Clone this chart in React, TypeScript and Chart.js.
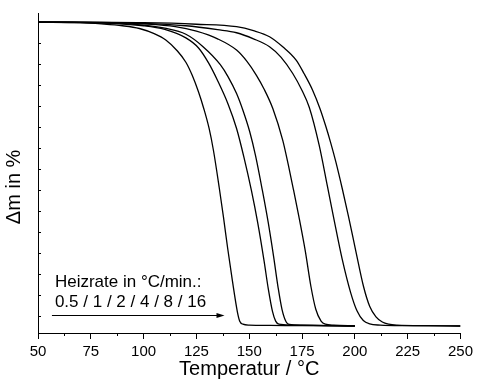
import React, { useEffect, useRef } from 'react';
import { Chart, registerables } from 'chart.js';

Chart.register(...registerables);

// Heating rates in °C/min (one curve each)
const heatingRates = ['0.5', '1', '2', '4', '8', '16'];

// Curve 0.5 °C/min
const temp05 = [50, 70, 80, 90, 98, 105, 110.5, 116, 120, 123, 126, 128.5, 131, 133, 135.8, 137.8, 139.8, 142, 144.4, 145.5, 147, 150, 160, 175, 200];
const mass05 = [100, 99.8, 99.4, 98.8, 97.9, 96.2, 94.1, 90.5, 86.8, 82.5, 77.0, 71.5, 65.0, 58.0, 45.5, 35.8, 25.5, 15.0, 4.6, 1.6, 0.6, 0.3, 0.2, 0.1, 0];

// Curve 1 °C/min
const temp1 = [50, 80, 100, 110, 120, 126, 130.8, 135, 140, 144, 147.5, 151, 154, 157, 159, 161, 162.5, 164, 170, 185, 200];
const mass1 = [100, 99.7, 98.8, 97.6, 94.8, 91.5, 86.5, 80.8, 73.0, 65.0, 55.5, 44.7, 34.0, 21.5, 12.3, 4.8, 1.6, 0.6, 0.3, 0.15, 0];

// Curve 2 °C/min
const temp2 = [50, 80, 100, 110, 120, 128, 136.3, 140, 144, 147, 150.2, 153, 156.2, 159, 161.5, 163.7, 165.5, 167.5, 169, 175, 200];
const mass2 = [100, 99.8, 99.0, 98.0, 96.0, 92.0, 86.0, 82.0, 76.5, 71.0, 64.0, 56.0, 44.7, 34.0, 23.0, 12.5, 5.5, 1.3, 0.5, 0.3, 0];

// Curve 4 °C/min
const temp4 = [50, 80, 100, 115, 125, 135, 144, 149, 153.4, 157, 161.2, 165.9, 168.5, 170.9, 173.5, 176.5, 179.2, 181.5, 184, 186, 190, 200];
const mass4 = [100, 99.9, 99.4, 98.5, 97.0, 94.5, 90.8, 87.0, 82.5, 78.0, 71.5, 61.0, 53.0, 45.0, 36.0, 24.8, 13.0, 5.5, 1.6, 0.6, 0.3, 0.1];

// Curve 8 °C/min
const temp8 = [50, 100, 120, 135, 144, 152, 159.6, 165, 170.6, 175, 178.4, 183.1, 187, 190, 194, 198, 201, 204, 207, 212, 225, 250];
const mass8 = [100, 99.6, 98.8, 97.5, 96.5, 94.5, 91.9, 88.5, 83.1, 77.5, 72.0, 59.5, 46.0, 35.5, 22.0, 11.0, 5.0, 1.8, 0.7, 0.3, 0.1, 0];

// Curve 16 °C/min
const temp16 = [50, 100, 125, 144, 152, 159.6, 166, 172.2, 176, 180, 183.5, 186.2, 188.6, 191, 194.1, 197, 200.5, 204.1, 207, 210, 213, 216, 220, 235, 250];
const mass16 = [100, 99.8, 99.3, 98.5, 97.2, 95.2, 91.8, 87.5, 83.0, 77.6, 71.5, 65.8, 60.2, 54.0, 45.0, 36.0, 24.5, 13.0, 6.5, 3.0, 1.3, 0.6, 0.3, 0.1, 0];

const temps = [temp05, temp1, temp2, temp4, temp8, temp16];
const masses = [mass05, mass1, mass2, mass4, mass8, mass16];

// Axis ticks
const xMajorTicks = [50, 75, 100, 125, 150, 175, 200, 225, 250];
const xMinorTicks = [62.5, 87.5, 112.5, 137.5, 162.5, 187.5, 212.5, 237.5];
const yTicks = [93.1, 86.2, 79.3, 72.4, 65.5, 58.6, 51.7, 44.8, 37.9, 31.0, 24.1, 17.2, 10.3, 3.4];

// Texts
const xTitle = 'Temperatur / °C';
const yTitle = 'Δm in %';
const noteLine1 = 'Heizrate in °C/min.:';
const noteLine2 = heatingRates.join(' / ');

// Note / arrow anchor (data coordinates)
const noteX = 58;
const noteY1 = 12.8;
const noteY2 = 6.2;
const arrowX0 = 56.6;
const arrowX1 = 138.3;
const arrowY = 3.6;

const FONT = '"Liberation Sans", Arial, Helvetica, sans-serif';

const decorPlugin = {
  id: 'decor',
  afterDraw(chart: any) {
    const { ctx, chartArea } = chart;
    const x = chart.scales.x;
    const y = chart.scales.y;
    ctx.save();
    ctx.strokeStyle = '#000';
    ctx.fillStyle = '#000';
    ctx.lineWidth = 1;
    // minor x ticks (outward)
    ctx.beginPath();
    for (const v of xMinorTicks) {
      const px = Math.round(x.getPixelForValue(v)) + 0.5;
      ctx.moveTo(px, chartArea.bottom);
      ctx.lineTo(px, chartArea.bottom + 3);
    }
    // y ticks (inward)
    for (const v of yTicks) {
      const py = Math.round(y.getPixelForValue(v)) + 0.5;
      ctx.moveTo(chartArea.left, py);
      ctx.lineTo(chartArea.left + 3, py);
    }
    ctx.stroke();

    // note text
    ctx.font = '17px ' + FONT;
    ctx.textAlign = 'left';
    ctx.textBaseline = 'alphabetic';
    ctx.fillText(noteLine1, x.getPixelForValue(noteX), y.getPixelForValue(noteY1));
    ctx.fillText(noteLine2, x.getPixelForValue(noteX), y.getPixelForValue(noteY2));

    // arrow
    const ax0 = x.getPixelForValue(arrowX0);
    const ax1 = x.getPixelForValue(arrowX1);
    const ay = Math.round(y.getPixelForValue(arrowY)) + 0.5;
    ctx.beginPath();
    ctx.moveTo(ax0, ay);
    ctx.lineTo(ax1 - 6, ay);
    ctx.stroke();
    ctx.beginPath();
    ctx.moveTo(ax1, ay);
    ctx.lineTo(ax1 - 8, ay - 2.5);
    ctx.lineTo(ax1 - 8, ay + 2.5);
    ctx.closePath();
    ctx.fill();
    ctx.restore();
  },
};

export default function App() {
  const ref = useRef<HTMLCanvasElement | null>(null);

  useEffect(() => {
    document.body.style.margin = '0';
    const canvas = ref.current;
    if (!canvas) return;
    Chart.defaults.font.family = FONT;
    Chart.defaults.color = '#000';

    const datasets = temps.map((t, i) => ({
      label: heatingRates[i] + ' °C/min',
      data: t.map((tv, j) => ({ x: tv, y: masses[i][j] })),
      showLine: true,
      borderColor: '#000',
      backgroundColor: '#000',
      borderWidth: 1.3,
      pointRadius: 0,
      cubicInterpolationMode: 'monotone' as const,
      fill: false,
    }));

    const chart = new Chart(canvas, {
      type: 'scatter',
      data: { datasets },
      options: {
        animation: false,
        responsive: false,
        maintainAspectRatio: false,
        layout: { padding: { left: 0, top: 13, right: 13.5, bottom: 0 } },
        plugins: {
          legend: { display: false },
          tooltip: { enabled: false },
        },
        scales: {
          x: {
            type: 'linear',
            position: 'bottom',
            min: 50,
            max: 250,
            afterBuildTicks: (scale: any) => {
              scale.ticks = xMajorTicks.map((v) => ({ value: v }));
            },
            afterFit: (scale: any) => {
              scale.height = 48;
            },
            ticks: {
              autoSkip: false,
              maxRotation: 0,
              padding: 4,
              color: '#000',
              font: { size: 15, family: FONT },
              callback: (v: any) => String(v),
            },
            grid: {
              display: true,
              drawOnChartArea: false,
              drawTicks: true,
              tickLength: 6,
              color: '#000',
              lineWidth: 1,
            },
            border: { display: true, color: '#000', width: 1 },
            title: {
              display: true,
              text: xTitle,
              color: '#000',
              font: { size: 20, family: FONT },
              padding: { top: 0, bottom: 0 },
            },
          },
          y: {
            type: 'linear',
            position: 'left',
            min: -2.3,
            max: 103,
            afterFit: (scale: any) => {
              scale.width = 38;
            },
            ticks: { display: false },
            grid: { display: false, drawTicks: false },
            border: { display: true, color: '#000', width: 1 },
            title: {
              display: true,
              text: yTitle + '\u00a0\u00a0\u00a0\u00a0\u00a0',
              color: '#000',
              font: { size: 20, family: FONT },
              padding: { top: 2, bottom: 0 },
            },
          },
        },
      },
      plugins: [decorPlugin],
    });

    return () => {
      chart.destroy();
    };
  }, []);

  return (
    <div style={{ width: 477, height: 381 }}>
      <canvas ref={ref} width={477} height={381} style={{ display: 'block' }} />
    </div>
  );
}
